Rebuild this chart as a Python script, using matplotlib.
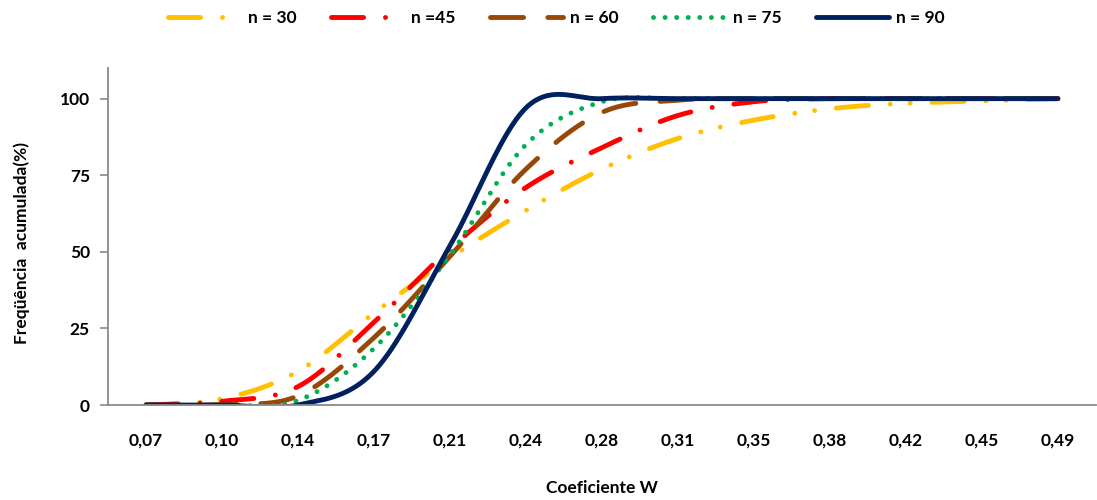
import numpy as np
import matplotlib
matplotlib.use("Agg")
import matplotlib.pyplot as plt
from matplotlib.lines import Line2D

plt.rcParams['font.family'] = ['Lato', 'DejaVu Sans']

# coeficiente W e rótulos do eixo
w = [0.07, 0.105, 0.14, 0.175, 0.21, 0.245, 0.28, 0.315, 0.35, 0.385, 0.42, 0.455, 0.49]
w_labels = ['0,07', '0,10', '0,14', '0,17', '0,21', '0,24', '0,28',
            '0,31', '0,35', '0,38', '0,42', '0,45', '0,49']

n30 = [0, 2, 11, 30, 48, 63.5, 77, 87, 93, 96.7, 98.5, 99.2, 100]
n45 = [0, 1.2, 6, 27, 51, 71, 84, 94.5, 99, 100, 100, 100, 100]
n60 = [0, 0.2, 3, 22, 48.5, 77, 95.5, 99.5, 100, 100, 100, 100, 100]
n75 = [0, 0, 1.5, 18.5, 49, 85, 99, 100, 100, 100, 100, 100, 100]
n90 = [0, 0, 0, 11, 52, 97, 100, 100, 100, 100, 100, 100, 100]

names = ['n = 30', 'n =45', 'n = 60', 'n = 75', 'n = 90']
series = [n30, n45, n60, n75, n90]
colors = ['#FFC000', '#FF0000', '#974706', '#00B050', '#002060']
# padrões de traço (em unidades da espessura da linha)
dashes = [(6.6, 4.5, 0.01, 4.1, 0.01, 4.5),
          (6.6, 4.5, 0.01, 4.5),
          (6.8, 5.0),
          (0.01, 2.37),
          None]


def smooth(x, y, n=40):
    # linha suavizada tipo Excel (Bezier com pontos de controle a 1/6)
    x = np.asarray(x, float)
    y = np.asarray(y, float)
    xp = np.concatenate([[x[0]], x, [x[-1]]])
    yp = np.concatenate([[y[0]], y, [y[-1]]])
    t = np.linspace(0, 1, n)[:, None]
    out = []
    for i in range(len(x) - 1):
        p0 = np.array([xp[i], yp[i]])
        p1 = np.array([xp[i + 1], yp[i + 1]])
        p2 = np.array([xp[i + 2], yp[i + 2]])
        p3 = np.array([xp[i + 3], yp[i + 3]])
        c1 = p1 + (p2 - p0) / 6
        c2 = p2 - (p3 - p1) / 6
        seg = ((1 - t) ** 3) * p1 + 3 * ((1 - t) ** 2) * t * c1 + 3 * (1 - t) * t ** 2 * c2 + t ** 3 * p2
        out.append(seg if i == 0 else seg[1:])
    out = np.vstack(out)
    return out[:, 0], out[:, 1]


fig = plt.figure(figsize=(10.97, 5), dpi=100)
ax = fig.add_axes([0.0985, 0.19, 0.9005, 0.674])

lw = 3.5
handles = []
for y, c, d, name in zip(series, colors, dashes, names):
    xs, ys = smooth(w, y)
    kw = dict(color=c, lw=lw, solid_capstyle='round', dash_capstyle='round', label=name)
    if d is not None:
        kw['dashes'] = d
    ax.plot(xs, ys, **kw)
    handles.append(Line2D([], [], **kw))

ax.set_xlim(0.0525, 0.5075)
ax.set_ylim(0, 110)
ax.set_xticks(w)
ax.set_xticklabels(w_labels, fontsize=12.5, fontweight='bold')
ax.set_yticks([0, 25, 50, 75, 100])
ax.set_yticklabels(['0', '25', '50', '75', '100'], fontsize=12.5, fontweight='bold')
ax.tick_params(axis='x', length=0, pad=20)
ax.tick_params(axis='y', length=6, width=1.2, color='#898989', pad=7)

for s in ['top', 'right']:
    ax.spines[s].set_visible(False)
for s in ['left', 'bottom']:
    ax.spines[s].set_color('#898989')
    ax.spines[s].set_linewidth(1.3)

fig.text(602 / 1097, 1 - 488 / 500, 'Coeficiente W', ha='center', va='center',
         fontsize=12.5, fontweight='bold')
fig.text(22 / 1097, 1 - 243 / 500, 'Freqüência  acumulada(%)', ha='center', va='center',
         rotation=90, fontsize=12.5, fontweight='bold')

leg = fig.legend(handles=handles, loc='center', bbox_to_anchor=(0.507, 1 - 18 / 500),
                 ncol=5, frameon=False, handlelength=4.2, handletextpad=0.4,
                 columnspacing=2.0, prop={'size': 12.5, 'weight': 'bold'})

fig.savefig('out.png', dpi=100)
